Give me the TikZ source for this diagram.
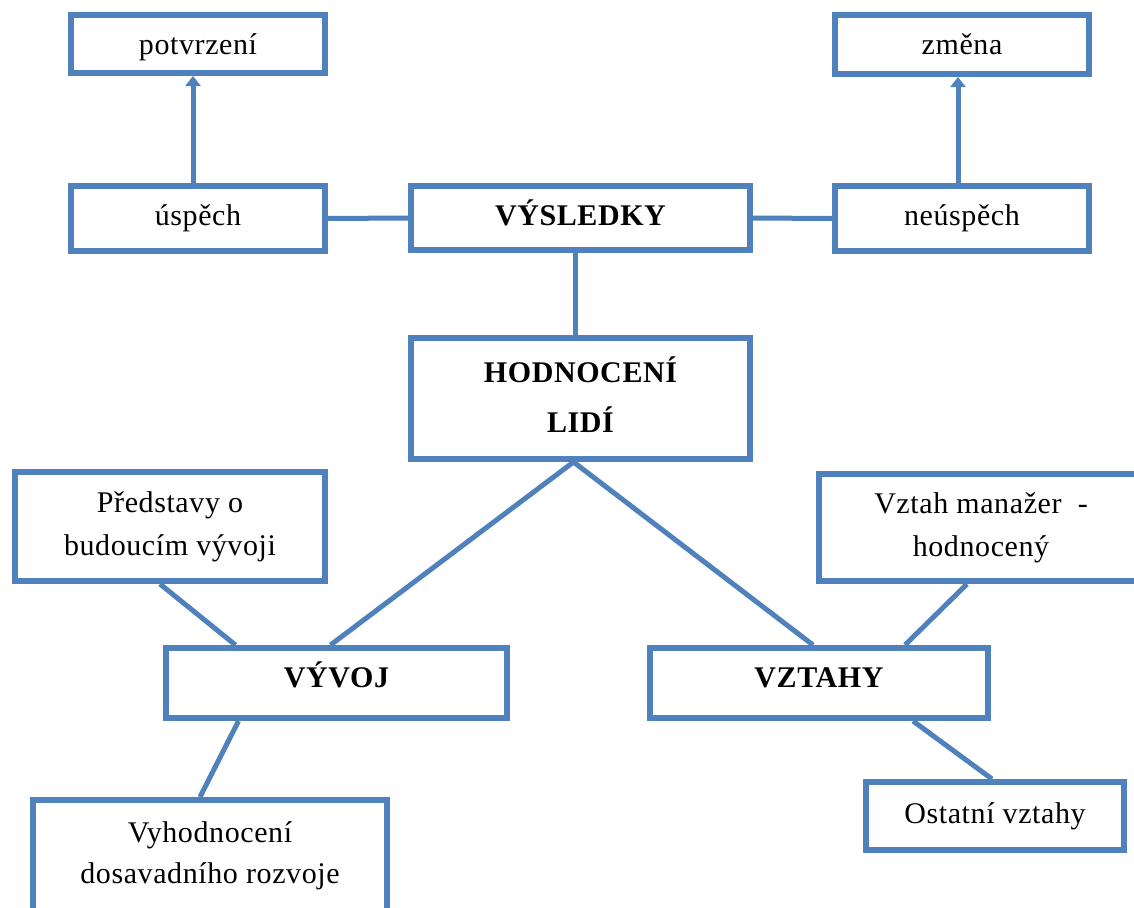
\documentclass[tikz,border=0pt]{standalone}
\usepackage{fontspec}
\setmainfont[LetterSpace=2]{Liberation Serif}
\usetikzlibrary{arrows.meta}
\definecolor{boxblue}{HTML}{4F81BD}
\tikzset{
  box/.style={draw=boxblue, line width=6pt, fill=white, inner sep=0pt, align=center,
    font=\fontsize{30}{43}\selectfont},
  boldbox/.style={box, font=\fontsize{30}{50}\selectfont\bfseries},
  conn/.style={draw=boxblue, line width=5pt},
  arr/.style={conn, -{Triangle[width=15pt,length=10pt]}}
}
\begin{document}
\begin{tikzpicture}[x=1pt,y=-1pt]
\clip (0,0) rectangle (1134,907);
\fill[white] (0,0) rectangle (1134,907);
\node[box, minimum width=254pt, minimum height=58pt, text height=22pt, text depth=0pt] (pot) at (198,44) {potvrzení};
\node[box, minimum width=254pt, minimum height=65pt, text height=22pt, text depth=9pt] (usp) at (198,218.5) {úspěch};
\node[box, minimum width=254pt, minimum height=59pt, text height=22pt, text depth=1pt] (zm) at (962,44.5) {změna};
\node[box, minimum width=254pt, minimum height=65pt, text height=22pt, text depth=9pt] (neu) at (962,218.5) {neúspěch};
\node[boldbox, minimum width=339pt, minimum height=64pt, text height=22pt, text depth=8pt] (vys) at (580.5,218) {VÝSLEDKY};
\node[boldbox, minimum width=339pt, minimum height=121pt] (hod) at (580.5,398.5) {\raisebox{4pt}[\height][\depth]{HODNOCENÍ}\\\raisebox{4pt}[\height][\depth]{LIDÍ}};
\node[box, minimum width=310pt, minimum height=109pt] (pred) at (170,526.5) {Představy o\\budoucím vývoji};
\node[box, minimum width=324pt, minimum height=107pt] (vzt) at (981,527.5) {Vztah manažer\ \ -\\hodnocený};
\node[boldbox, minimum width=341pt, minimum height=70pt, text height=20pt, text depth=12pt] (vyv) at (336.5,683) {VÝVOJ};
\node[boldbox, minimum width=338pt, minimum height=70pt, text height=20pt, text depth=12pt] (vzy) at (819,683) {VZTAHY};
\node[box, minimum width=354pt, minimum height=117pt] (vyh) at (210,858.5) {\raisebox{3pt}[\height][\depth]{Vyhodnocení}\\[-2pt]\raisebox{3pt}[\height][\depth]{dosavadního rozvoje}};
\node[box, minimum width=258pt, minimum height=68pt, text height=22pt, text depth=8pt] (ost) at (995,816) {Ostatní vztahy};
% connectors
\draw[arr] ([xshift=-5pt]usp.north) -- ([xshift=-5pt]pot.south);
\draw[arr] ([xshift=-4pt]neu.north) -- ([xshift=-4pt]zm.south);
\draw[conn] (usp.east) -- (vys.west);
\draw[conn] (vys.east) -- (neu.west);
\draw[conn] ([xshift=-5pt]vys.south) -- ([xshift=-5pt]hod.north);
\draw[conn] ([xshift=-7pt]hod.south) -- ([xshift=-6pt]vyv.north);
\draw[conn] ([xshift=-7pt]hod.south) -- ([xshift=-6pt]vzy.north);
\draw[conn] ([xshift=-10pt]pred.south) -- ([xshift=-101pt]vyv.north);
\draw[conn] ([xshift=-14pt]vzt.south) -- ([xshift=86pt]vzy.north);
\draw[conn] ([xshift=-98pt]vyv.south) -- ([xshift=-10pt]vyh.north);
\draw[conn] ([xshift=94pt]vzy.south) -- ([xshift=-3pt]ost.north);
\end{tikzpicture}
\end{document}
